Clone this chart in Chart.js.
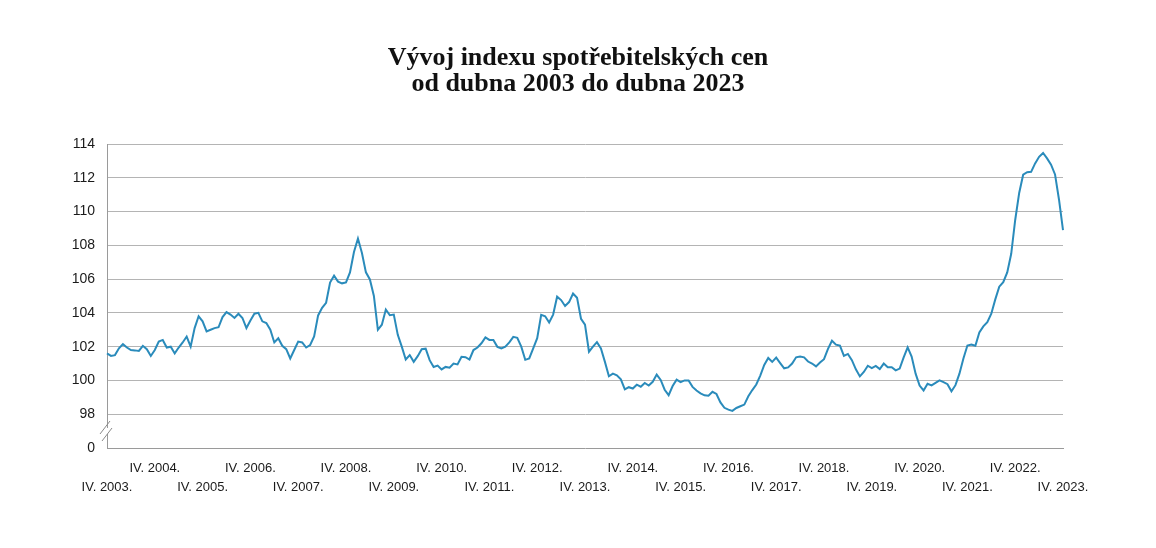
<!DOCTYPE html>
<html><head><meta charset="utf-8">
<script src="https://cdn.jsdelivr.net/npm/chart.js@4.4.0/dist/chart.umd.min.js"></script>
<style>html,body{margin:0;padding:0;background:#fff}#wrap{width:1156px;height:548px;position:relative}</style>
</head><body><div id="wrap"><canvas id="c"></canvas></div>
<script>
// Monthly CPI index, April 2003 – April 2023
const cpiApr2003toMar2007 = [
  101.6,101.45,101.5,101.9,102.15,101.95,101.8,101.78,101.75,102.05,101.85,101.45,
  101.8,102.3,102.4,101.95,102.0,101.6,101.95,102.25,102.6,102.0,103.1,103.8,
  103.5,102.9,103.0,103.1,103.15,103.75,104.05,103.9,103.7,103.95,103.7,103.1,
  103.55,103.95,104.0,103.5,103.4,103.0,102.25,102.5,102.05,101.85,101.3,101.8
];
const cpiApr2007toMar2011 = [
  102.3,102.25,101.95,102.1,102.6,103.85,104.3,104.6,105.8,106.2,105.85,105.75,
  105.8,106.4,107.6,108.4,107.55,106.4,105.98,105.0,103.0,103.3,104.2,103.86,
  103.9,102.7,102.0,101.24,101.5,101.1,101.44,101.85,101.88,101.2,100.8,100.88,
  100.65,100.8,100.75,101.0,100.95,101.4,101.38,101.24,101.8,101.95,102.2,102.55
];
const cpiApr2011toMar2015 = [
  102.4,102.4,101.99,101.9,102.0,102.25,102.58,102.52,102.0,101.22,101.3,101.9,
  102.5,103.88,103.8,103.43,103.9,104.96,104.76,104.41,104.64,105.15,104.9,103.65,
  103.3,101.7,102.0,102.27,101.9,101.1,100.25,100.4,100.3,100.07,99.47,99.6,
  99.52,99.75,99.63,99.85,99.7,99.92,100.35,100.03,99.45,99.13,99.67,100.05
];
const cpiApr2015toMar2019 = [
  99.9,100.0,100.0,99.62,99.4,99.24,99.12,99.1,99.33,99.2,98.7,98.38,
  98.27,98.2,98.37,98.47,98.57,99.06,99.43,99.76,100.29,100.92,101.33,101.1,
  101.35,101.03,100.72,100.77,101.0,101.37,101.41,101.37,101.12,101.0,100.83,101.06,
  101.26,101.87,102.35,102.12,102.06,101.45,101.57,101.2,100.66,100.24,100.5,100.87
];
const cpiApr2019toApr2023 = [
  100.73,100.86,100.67,101.0,100.78,100.78,100.6,100.7,101.37,101.96,101.41,100.4,
  99.7,99.41,99.8,99.71,99.86,100.0,99.9,99.78,99.36,99.72,100.4,101.3,
  102.07,102.12,102.05,102.84,103.2,103.45,103.95,104.8,105.55,105.82,106.4,107.5,
  109.5,111.1,112.18,112.33,112.35,112.85,113.24,113.47,113.15,112.78,112.2,110.7,
  108.9
];
const romanMonths = ['I','II','III','IV','V','VI','VII','VIII','IX','X','XI','XII'];
const yearTickLabels = ['IV. 2003.','IV. 2004.','IV. 2005.','IV. 2006.','IV. 2007.','IV. 2008.','IV. 2009.',
  'IV. 2010.','IV. 2011.','IV. 2012.','IV. 2013.','IV. 2014.','IV. 2015.','IV. 2016.','IV. 2017.',
  'IV. 2018.','IV. 2019.','IV. 2020.','IV. 2021.','IV. 2022.','IV. 2023.'];
const yTickValues = [96,98,100,102,104,106,108,110,112,114];
const yBreakLabel = '0';

const cpiValues = [].concat(cpiApr2003toMar2007, cpiApr2007toMar2011, cpiApr2011toMar2015, cpiApr2015toMar2019, cpiApr2019toApr2023);
const monthLabels = cpiValues.map((v, i) => {
  const mi = 3 + i;
  return romanMonths[mi % 12] + '. ' + (2003 + Math.floor(mi / 12)) + '.';
});

const sans = "'Liberation Sans', Arial, sans-serif";
const axisGray = '#9a9a9a';

const breakPlugin = {
  id: 'axisBreak',
  afterDraw(chart) {
    const ctx = chart.ctx;
    const x = chart.chartArea.left;
    ctx.save();
    ctx.fillStyle = '#fff';
    ctx.fillRect(x - 3, 428, 6, 6);
    ctx.strokeStyle = '#8a8a8a';
    ctx.lineWidth = 1;
    ctx.beginPath();
    ctx.moveTo(x - 7, 434); ctx.lineTo(x + 3, 421);
    ctx.moveTo(x - 5, 441); ctx.lineTo(x + 5, 428);
    ctx.stroke();
    ctx.restore();
  }
};

new Chart(document.getElementById('c'), {
  type: 'line',
  data: {
    labels: monthLabels,
    datasets: [{
      data: cpiValues,
      borderColor: '#2a8bbb',
      borderWidth: 2,
      pointRadius: 0,
      tension: 0,
      fill: false
    }]
  },
  options: {
    responsive: true,
    maintainAspectRatio: false,
    animation: false,
    layout: { padding: 0 },
    plugins: {
      legend: { display: false },
      tooltip: { enabled: false },
      title: {
        display: true,
        text: ['Vývoj indexu spotřebitelských cen', 'od dubna 2003 do dubna 2023'],
        color: '#111',
        font: { family: "'Liberation Serif', serif", size: 26, weight: 'bold', lineHeight: '26px' },
        padding: { top: 45, bottom: 47 }
      }
    },
    scales: {
      x: {
        type: 'category',
        offset: false,
        grid: { display: false, drawTicks: false },
        border: { display: true, color: axisGray, width: 1 },
        afterFit(scale) { scale.height = 100; },
        ticks: {
          autoSkip: false, maxRotation: 0, minRotation: 0, padding: 11,
          color: '#1a1a1a',
          font: { family: sans, size: 13, lineHeight: '19px' },
          callback(val, idx) {
            if (idx % 12 !== 0) return null;
            const k = idx / 12;
            const lbl = yearTickLabels[k];
            return k % 2 === 0 ? ['', lbl] : [lbl, ''];
          }
        }
      },
      y: {
        min: 96, max: 114,
        afterFit(scale) { scale.width = 107; },
        afterBuildTicks(scale) { scale.ticks = yTickValues.map(v => ({ value: v })); },
        grid: {
          drawTicks: false,
          color: (c) => c.tick && c.tick.value === 96 ? 'rgba(0,0,0,0)' : '#b4b4b4',
          lineWidth: 1
        },
        border: { display: true, color: axisGray, width: 1 },
        ticks: {
          padding: 12,
          color: '#1a1a1a',
          font: { family: sans, size: 14 },
          callback(v) { return v === 96 ? yBreakLabel : String(v); }
        }
      },
      yRight: {
        position: 'right',
        display: true,
        grid: { display: false, drawTicks: false },
        border: { display: false },
        ticks: { display: false },
        afterFit(scale) { scale.width = 93; }
      }
    }
  },
  plugins: [breakPlugin]
});
</script>
</body></html>
